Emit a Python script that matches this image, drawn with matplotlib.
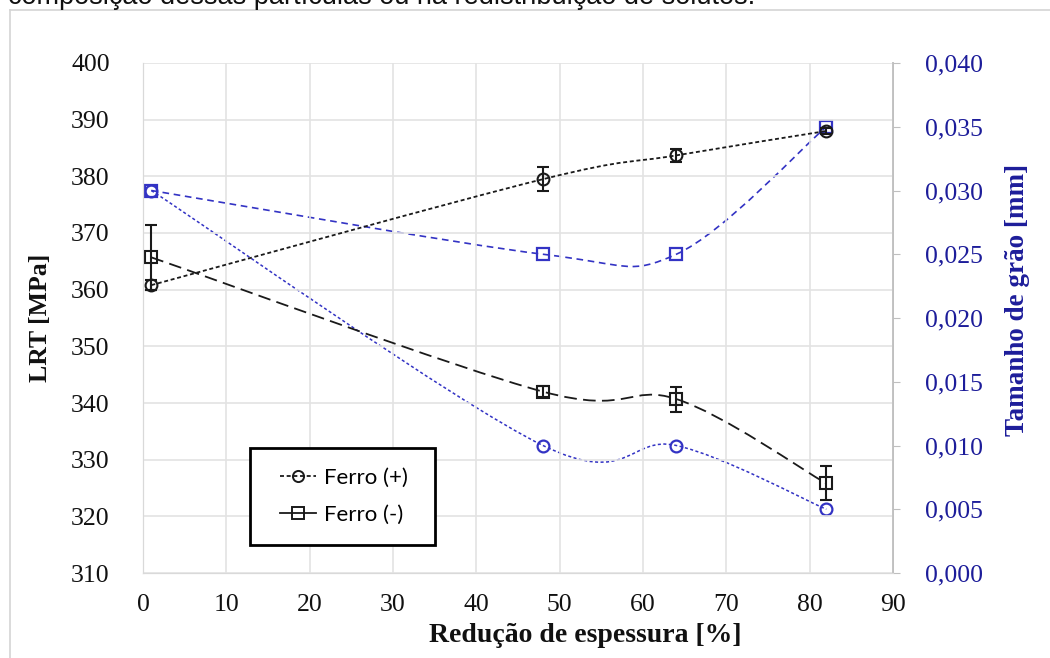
import numpy as np
import matplotlib
matplotlib.use("Agg")
import matplotlib.pyplot as plt
from matplotlib.path import Path
from matplotlib.patches import PathPatch, Rectangle
from matplotlib.lines import Line2D
from matplotlib.ticker import FuncFormatter

# ── dados ─────────────────────────────────────────────────────────────────────
reducao = [1, 48, 64, 82]

lrt_mais = [360.8, 379.5, 383.7, 388.0]     # Ferro (+)
err_mais = [0.9, 2.1, 1.1, 0.5]
lrt_menos = [365.7, 342.0, 340.7, 325.8]    # Ferro (-)
err_menos = [5.7, 1.0, 2.2, 3.0]

grao_mais = [0.030, 0.010, 0.010, 0.005]    # tamanho de grão, círculos
grao_menos = [0.030, 0.025, 0.025, 0.035]   # tamanho de grão, quadrados

xticks = [0, 10, 20, 30, 40, 50, 60, 70, 80, 90]
yticks_lrt = [310, 320, 330, 340, 350, 360, 370, 380, 390, 400]
yticks_grao = [0.000, 0.005, 0.010, 0.015, 0.020, 0.025, 0.030, 0.035, 0.040]

AZUL = "#3333c4"
AZUL_TXT = "#1d1d9a"
SERIF = "Liberation Serif"
W, H = 1050, 658


def smooth_path(xs, ys):
    # curva suavizada estilo Excel (Bezier cúbica, tipo Catmull-Rom)
    pts = np.column_stack([xs, ys]).astype(float)
    n = len(pts)
    verts = [pts[0]]
    codes = [Path.MOVETO]
    for i in range(n - 1):
        p0 = pts[i - 1] if i > 0 else pts[i]
        p1, p2 = pts[i], pts[i + 1]
        p3 = pts[i + 2] if i + 2 < n else pts[i + 1]
        c1 = p1 + (p2 - p0) / 6.0
        c2 = p2 - (p3 - p1) / 6.0
        verts += [c1, c2, p2]
        codes += [Path.CURVE4] * 3
    return Path(verts, codes)


fig = plt.figure(figsize=(W / 100, H / 100), dpi=100)
ax = fig.add_axes([143 / W, 1 - 573 / H, 750 / W, 510 / H])
ax2 = ax.twinx()

# ── eixo direito: tamanho de grão ─────────────────────────────────────────────
ax2.add_patch(PathPatch(smooth_path(reducao, grao_menos), fill=False, edgecolor=AZUL,
                        lw=1.2, linestyle=(0, (4, 2.8))))
ax2.add_patch(PathPatch(smooth_path(reducao, grao_mais), fill=False, edgecolor=AZUL,
                        lw=1.1, linestyle=(0, (2.0, 1.6))))
ax2.plot(reducao, grao_menos, ls="none", marker="s", ms=8, mfc="none", mec=AZUL, mew=1.6)
ax2.plot(reducao, grao_mais, ls="none", marker="o", ms=8.5, mfc="none", mec=AZUL, mew=1.6)
ax2.set_ylim(0, 0.040)
ax2.set_yticks(yticks_grao)
ax2.yaxis.set_major_formatter(FuncFormatter(lambda v, p: f"{v:.3f}".replace(".", ",")))
ax2.tick_params(axis="y", direction="out", length=5, color="#bfbfbf", pad=18,
                labelsize=18.5, labelcolor=AZUL_TXT)
for lab in ax2.get_yticklabels():
    lab.set_family(SERIF)

# ── eixo esquerdo: LRT ────────────────────────────────────────────────────────
ax.set_zorder(ax2.get_zorder() + 1)
ax.patch.set_visible(False)

ax.add_patch(PathPatch(smooth_path(reducao, lrt_menos), fill=False, edgecolor="#1a1a1a",
                       lw=1.3, linestyle=(0, (7, 3.5))))
ax.add_patch(PathPatch(smooth_path(reducao, lrt_mais), fill=False, edgecolor="#1a1a1a",
                       lw=1.3, linestyle=(0, (2.2, 1.5))))
ax.errorbar(reducao, lrt_menos, yerr=err_menos, ls="none", marker="s", ms=8.5,
            mfc="none", mec="#1a1a1a", mew=1.5, ecolor="#1a1a1a", elinewidth=1.5,
            capsize=4, capthick=1.5)
ax.errorbar(reducao, lrt_mais, yerr=err_mais, ls="none", marker="o", ms=8.5,
            mfc="none", mec="#1a1a1a", mew=1.5, ecolor="#1a1a1a", elinewidth=1.5,
            capsize=4, capthick=1.5)

ax.set_xlim(0, 90)
ax.set_ylim(310, 400)
ax.set_xticks(xticks)
ax.set_yticks(yticks_lrt)
ax.grid(True, color="#e3e3e3", lw=1.2)
ax.set_axisbelow(True)
ax.tick_params(axis="both", length=0, labelsize=18.5, labelcolor="#111111")
ax.tick_params(axis="x", pad=15)
ax.tick_params(axis="y", pad=24)
for lab in ax.get_xticklabels() + ax.get_yticklabels():
    lab.set_family(SERIF)

for a in (ax, ax2):
    a.spines["top"].set_visible(False)
    a.spines["left"].set_color("#d9d9d9")
    a.spines["bottom"].set_color("#d9d9d9")
    a.spines["right"].set_color("#bfbfbf")
    a.spines["right"].set_linewidth(1.2)

# títulos dos eixos
fig.text(585 / W, 1 - 636 / H, "Redução de espessura [%]", ha="center", va="center",
         fontsize=20, fontweight="bold", family=SERIF, color="#111111")
fig.text(40 / W, 1 - 318 / H, "LRT [MPa]", rotation=90, ha="center", va="center",
         fontsize=18.5, fontweight="bold", family=SERIF, color="#111111")
fig.text(1018 / W, 1 - 300 / H, "Tamanho de grão [mm]", rotation=90, ha="center",
         va="center", fontsize=19.5, fontweight="bold", family=SERIF, color=AZUL_TXT)

# ── legenda ───────────────────────────────────────────────────────────────────
ax.add_patch(Rectangle((107 / 750, 28 / 510), 185 / 750, 97 / 510, transform=ax.transAxes,
                       facecolor="white", edgecolor="black", lw=2, zorder=5))
handles = [
    Line2D([], [], color="#1a1a1a", lw=1.3, ls=(0, (2.2, 1.5)), marker="o", ms=8,
           mfc="none", mew=1.4),
    Line2D([], [], color="#1a1a1a", lw=1.3, ls="-", marker="s", ms=8,
           mfc="none", mew=1.4),
]
leg = ax.legend(handles, ["Ferro (+)", "Ferro (-)"], loc="center",
                bbox_to_anchor=(201 / 750, 76.5 / 510), frameon=False,
                prop={"family": "Lato", "size": 16}, handlelength=1.6,
                handletextpad=0.35, labelspacing=0.75)
leg.set_zorder(6)

# ── moldura e texto do documento ──────────────────────────────────────────────
fig.add_artist(Line2D([10 / W, 1], [1 - 10 / H, 1 - 10 / H], color="#d4d4d4", lw=1.2))
fig.add_artist(Line2D([10 / W, 10 / W], [0, 1 - 10 / H], color="#d4d4d4", lw=1.2))
fig.text(755 / W, 1 - 4 / H,
         "composição dessas partículas ou na redistribuição de solutos.",
         ha="right", va="baseline", fontsize=19.5, family="Liberation Sans", color="#111111")

fig.savefig("out.png", dpi=100)
plt.close()
